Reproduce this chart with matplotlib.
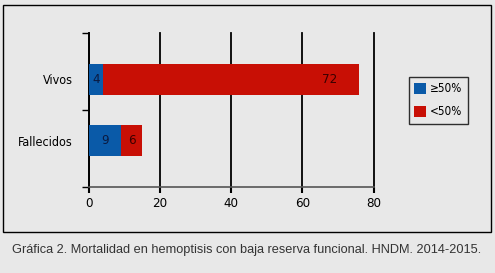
import matplotlib
matplotlib.use("Agg")
import matplotlib.pyplot as plt
from matplotlib.patches import Rectangle

categories = ["Fallecidos", "Vivos"]
ge50 = [9, 4]
lt50 = [6, 72]
xticks = [0, 20, 40, 60, 80]
series_labels = ["\u226550%", "<50%"]
caption = "Gráfica 2. Mortalidad en hemoptisis con baja reserva funcional. HNDM. 2014-2015."

plt.rcParams['font.family'] = ['DejaVu Sans']
plt.rcParams['font.stretch'] = 'condensed'

bg = "#e8e8e8"
blue = "#0a5aa8"
red = "#c80f05"

fig = plt.figure(figsize=(4.95, 2.73), dpi=100, facecolor=bg)
# outer frame
fig.patches.append(Rectangle((3/495, 1-232/273), 488/495, 227/273, transform=fig.transFigure,
                             fill=False, edgecolor="black", linewidth=1.0))

ax = fig.add_axes([88.7/495, 1-187/273, 285/495, 154/273])
ax.set_facecolor(bg)

ypos = [0, 1]
h = 0.508
ax.barh(ypos, ge50, height=h, color=blue, label=series_labels[0], zorder=3)
ax.barh(ypos, lt50, left=ge50, height=h, color=red, label=series_labels[1], zorder=3)

ax.set_xlim(0, 80)
ax.set_ylim(-0.762, 1.762)
ax.set_xticks(xticks)
ax.set_xticklabels([str(t) for t in xticks], fontsize=9.5)
ax.set_yticks(ypos)
ax.set_yticklabels(categories, fontsize=9)
ax.tick_params(axis='y', length=0, pad=11.5)
ax.set_yticks([-0.762, 0.5, 1.762], minor=True)
ax.tick_params(axis='y', which='minor', length=5, width=1, color='black', direction='out')
ax.tick_params(axis='x', length=4, width=1.5, color='black', pad=3)

ax.grid(axis='x', color='black', linewidth=1.3, zorder=1)
for gl in ax.get_xgridlines():
    gl.set_clip_on(False)
for s in ['top', 'right']:
    ax.spines[s].set_visible(False)
ax.spines['left'].set_color('black')
ax.spines['left'].set_linewidth(1.2)
ax.spines['bottom'].set_color('#555555')
ax.spines['bottom'].set_linewidth(1.2)

# value labels
for y, a, b in zip(ypos, ge50, lt50):
    ax.text(a / 2, y, str(a), ha='center', va='center', fontsize=9.5, color='#0a1a40', zorder=4)
    if b > 30:
        ax.text(a + b - 8.3, y, str(b), ha='center', va='center', fontsize=9.5, color='#3a0000', zorder=4)
    else:
        ax.text(a + b / 2, y, str(b), ha='center', va='center', fontsize=9.5, color='#3a0000', zorder=4)

leg = fig.legend(loc='upper left', bbox_to_anchor=(409/495, 1-77/273), frameon=True,
                 prop={'size': 8.5, 'stretch': 'condensed'}, handlelength=1.0, handleheight=1.0,
                 handletextpad=0.35, borderpad=0.45, labelspacing=0.85, fancybox=False, borderaxespad=0)
leg.get_frame().set_edgecolor('black')
leg.get_frame().set_facecolor(bg)
leg.get_frame().set_linewidth(1.0)

fig.text(247/495, 1-250/273, caption, ha='center', va='center', fontsize=9.2,
         family=['Liberation Sans', 'DejaVu Sans'], stretch='normal', color='#333333')

fig.savefig("out.png", dpi=100, facecolor=bg)
